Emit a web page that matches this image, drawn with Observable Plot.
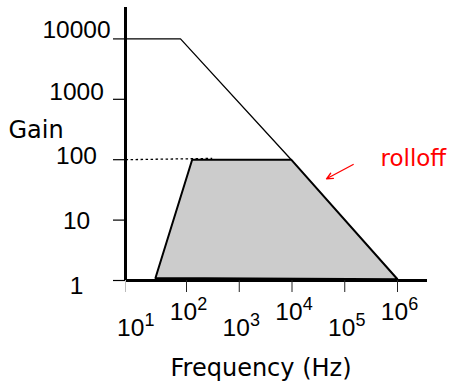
<!DOCTYPE html>
<html>
<head>
<meta charset="utf-8">
<script src="https://cdn.jsdelivr.net/npm/d3@7"></script>
<script src="https://cdn.jsdelivr.net/npm/@observablehq/plot@0.6"></script>
<style>
  body { margin: 0; background: #fff; }
</style>
</head>
<body>
<div id="chart"></div>
<script>
// Tick values
const gainTicks = [1, 10, 100, 1000, 10000];
const freqTicks = [1e1, 1e2, 1e3, 1e4, 1e5, 1e6];

// Open-loop gain: flat, then rolling off
const openFreq = [7, 77, 9700];
const openGain = [10000, 10000, 100];

// Band-pass response (shaded trapezoid), outline closed back on its first point
const bandFreq = [25.8, 128, 9660, 1e6, 25.8];
const bandGain = [1.1, 100, 100, 1.05, 1.1];

// Dotted reference level at gain 100
const refFreq = [7, 307];
const refGain = [100, 105];

// "rolloff" annotation and its arrow
const noteText = ["rolloff"];
const noteFreq = [4.76e5];
const noteGain = [80];
const arrowFreq = [1.446e5, 4.51e4];
const arrowGain = [83.3, 48.3];

// Scale extents
const xDomain = [10 ** 0.8436, 10 ** 6.5687];
const yDomain = [1, 10 ** 4.52];

const rows = (fs, gs) => fs.map((f, i) => ({f, g: gs[i]}));

// vertical nudges for the gain labels, in gainTicks order
const labelNudge = [5.5, 1, -4, -7, -9];

const powFormat = d => `10^${Math.round(Math.log10(d))}`;
const labelFont = "DejaVu Sans";

const chart = Plot.plot({
  width: 453,
  height: 384,
  marginLeft: 125,
  marginRight: 26,
  marginTop: 7,
  marginBottom: 104,
  style: {fontFamily: "Liberation Sans", fontSize: "24.5px", background: "white", color: "black", overflow: "visible"},
  x: {type: "log", domain: xDomain, label: null},
  y: {type: "log", domain: yDomain, label: null},
  marks: [
    // shaded band
    Plot.line(rows(bandFreq, bandGain), {x: "f", y: "g", fill: "#cccccc", stroke: "black", strokeWidth: 2, strokeLinejoin: "miter", curve: "linear"}),
    // open-loop gain
    Plot.line(rows(openFreq, openGain), {x: "f", y: "g", stroke: "black", strokeWidth: 1.3}),
    // reference level
    Plot.line(rows(refFreq, refGain), {x: "f", y: "g", stroke: "black", strokeWidth: 1.3, strokeDasharray: "2.5,2.5", strokeLinecap: "butt"}),

    // axis lines
    Plot.ruleX([xDomain[0]], {stroke: "black", strokeWidth: 3}),
    Plot.ruleY([1], {stroke: "black", strokeWidth: 3}),

    // gain ticks
    Plot.axisY(gainTicks, {anchor: "left", tickSize: 12, tickFormat: () => "", stroke: "black", strokeWidth: 1.2, label: null}),
    // gain labels
    ...gainTicks.map((v, i) => Plot.axisY([v], {
      anchor: "left", tickSize: 0, tickPadding: 49, textAnchor: "middle",
      dy: labelNudge[i], tickFormat: d => String(d), fontSize: 24.5, label: null
    })),

    // frequency ticks
    Plot.axisX([xDomain[0]], {anchor: "bottom", tickSize: 12, tickFormat: () => "", stroke: "#bbbbbb", label: null}),
    Plot.axisX(freqTicks.slice(1), {anchor: "bottom", tickSize: 12, tickFormat: () => "", stroke: "#222", label: null}),
    // frequency labels, staggered
    Plot.axisX(freqTicks.filter((d, i) => i % 2 === 0), {anchor: "bottom", tickSize: 0, tickPadding: 37.6, dx: 2, tickFormat: powFormat, fontSize: 24.5, label: null}),
    Plot.axisX(freqTicks.filter((d, i) => i % 2 === 1), {anchor: "bottom", tickSize: 0, tickPadding: 21.6, dx: 2, tickFormat: powFormat, fontSize: 24.5, label: null}),

    // axis titles
    Plot.text(["Gain"], {frameAnchor: "top-left", dx: -117, dy: 130, textAnchor: "start", lineAnchor: "bottom", fontFamily: labelFont, fontSize: 24, fill: "black"}),
    Plot.text(["Frequency (Hz)"], {frameAnchor: "bottom", dx: -15.5, dy: 95, textAnchor: "middle", lineAnchor: "bottom", fontFamily: labelFont, fontSize: 24, fill: "black"}),

    // annotation
    Plot.text(noteText, {x: noteFreq, y: noteGain, text: d => d, textAnchor: "start", lineAnchor: "bottom", fontFamily: labelFont, fontSize: 23, fill: "#ff0000"}),
    Plot.arrow([0], {
      x1: () => arrowFreq[0], y1: () => arrowGain[0],
      x2: () => arrowFreq[1], y2: () => arrowGain[1],
      stroke: "#ff0000", strokeWidth: 1.3, headLength: 8, headAngle: 50
    })
  ]
});

// turn "10^k" labels into a base with a raised exponent
const ns = "http://www.w3.org/2000/svg";
chart.querySelectorAll('g[aria-label="x-axis tick label"] text').forEach(t => {
  const s = t.textContent;
  if (!s.includes("^")) return;
  const [base, exp] = s.split("^");
  t.textContent = "";
  const b = document.createElementNS(ns, "tspan");
  b.textContent = base;
  const e = document.createElementNS(ns, "tspan");
  e.textContent = exp;
  e.setAttribute("dy", "-9.5");
  e.setAttribute("font-size", "18");
  t.append(b, e);
});

document.getElementById("chart").append(chart);
</script>
</body>
</html>
